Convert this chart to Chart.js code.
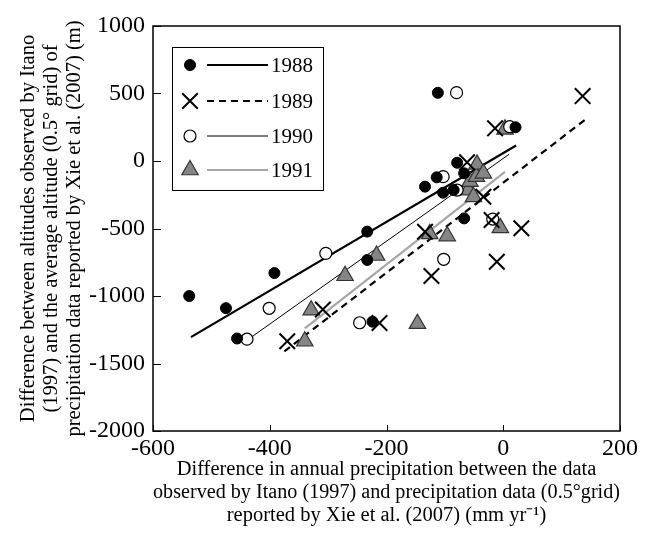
<!DOCTYPE html>
<html>
<head>
<meta charset="utf-8">
<script src="https://cdn.jsdelivr.net/npm/chart.js@4.4.0/dist/chart.umd.min.js"></script>
<style>
  html, body { margin: 0; padding: 0; background: #fff; }
</style>
</head>
<body>
<canvas id="scatterChart" width="646" height="538"></canvas>
<script>
// Values
const years = ['1988', '1989', '1990', '1991'];

const x1988 = [-538, -475, -456, -392, -233, -233, -224, -134, -114, -112, -103, -85, -79, -67, -67, 21];
const y1988 = [-1000, -1090, -1315, -830, -523, -733, -1190, -190, -121, 505, -235, -215, -13, -91, -425, 250];

const x1989 = [-370, -309, -212, -134, -123, -62, -34, -20, -14, -11, 31, 136];
const y1989 = [-1335, -1100, -1200, -524, -852, -10, -265, -437, 242, -746, -498, 481];

const x1990 = [-439, -401, -304, -246, -103, -80, -79, -102, 11, -18];
const y1990 = [-1320, -1091, -684, -1198, -116, 506, -215, -728, 254, -430];

const x1991 = [-340, -329, -271, -217, -147, -126, -96, -60, -51, -57, -46, -45, -34, -5, 3];
const y1991 = [-1335, -1105, -850, -700, -1205, -540, -556, -215, -265, -153, -116, -25, -91, -495, 235];

// regression line end points
const fitX1988 = [-535, 22];
const fitY1988 = [-1305, 115];
const fitX1989 = [-375, 143];
const fitY1989 = [-1410, 315];
const fitX1990 = [-430, 10];
const fitY1990 = [-1300, 50];
const fitX1991 = [-340, 3];
const fitY1991 = [-1240, -80];

const xTicks = [-600, -400, -200, 0, 200];
const yTicks = [-2000, -1500, -1000, -500, 0, 500, 1000];

const toPoints = (xs, ys) => xs.map((x, i) => ({ x: x, y: ys[i] }));

const serif = '"Liberation Serif", "Times New Roman", serif';
Chart.defaults.font.family = serif;
Chart.defaults.font.size = 20;
Chart.defaults.color = '#000';

// Point styles for each year (also used by the boxed legend)
const markers = [
    { pointStyle: 'circle', pointRadius: 5.5, pointBackgroundColor: '#000', pointBorderColor: '#000', pointBorderWidth: 1 },
    { pointStyle: 'crossRot', pointRadius: 11, pointBackgroundColor: '#000', pointBorderColor: '#000', pointBorderWidth: 2 },
    { pointStyle: 'circle', pointRadius: 6, pointBackgroundColor: '#fff', pointBorderColor: '#000', pointBorderWidth: 1.2 },
    { pointStyle: 'triangle', pointRadius: 9.5, pointBackgroundColor: '#858585', pointBorderColor: '#333', pointBorderWidth: 1.2 }
];
const fitLines = [
    { borderColor: '#000', borderWidth: 2.2, borderDash: [] },
    { borderColor: '#000', borderWidth: 2.2, borderDash: [7, 5] },
    { borderColor: '#000', borderWidth: 1, borderDash: [] },
    { borderColor: '#a6a6a6', borderWidth: 2.2, borderDash: [] }
];

const pointSets = [toPoints(x1988, y1988), toPoints(x1989, y1989), toPoints(x1990, y1990), toPoints(x1991, y1991)];
const fitSets = [toPoints(fitX1988, fitY1988), toPoints(fitX1989, fitY1989), toPoints(fitX1990, fitY1990), toPoints(fitX1991, fitY1991)];

const datasets = [];
years.forEach((yr, i) => {
    datasets.push(Object.assign({ label: yr, data: pointSets[i], showLine: false }, markers[i]));
});
years.forEach((yr, i) => {
    datasets.push(Object.assign({ label: yr + ' fit', data: fitSets[i], showLine: true, pointRadius: 0, fill: false }, fitLines[i]));
});

// frame round the plot area with inward tick marks
const frameTicks = {
    id: 'frameTicks',
    beforeDatasetsDraw(chart) {
        const { ctx, chartArea: a, scales } = chart;
        ctx.save();
        ctx.strokeStyle = '#000';
        ctx.lineWidth = 1.5;
        ctx.strokeRect(a.left, a.top, a.right - a.left, a.bottom - a.top);
        ctx.lineWidth = 1;
        ctx.beginPath();
        xTicks.forEach(v => {
            const px = Math.round(scales.x.getPixelForValue(v)) + 0.5;
            ctx.moveTo(px, a.bottom);
            ctx.lineTo(px, a.bottom - 6);
        });
        yTicks.forEach(v => {
            const py = Math.round(scales.y.getPixelForValue(v)) + 0.5;
            ctx.moveTo(a.left, py);
            ctx.lineTo(a.left + 8, py);
        });
        ctx.stroke();
        ctx.restore();
    }
};

// boxed legend: marker, line sample, year
const drawMarker = (ctx, m, x, y) => {
    ctx.fillStyle = m.pointBackgroundColor;
    ctx.strokeStyle = m.pointBorderColor;
    ctx.lineWidth = m.pointBorderWidth;
    ctx.beginPath();
    const r = m.pointRadius;
    if (m.pointStyle === 'circle') {
        ctx.arc(x, y, r, 0, Math.PI * 2);
        ctx.fill();
        ctx.stroke();
    } else if (m.pointStyle === 'crossRot') {
        const d = r * Math.SQRT1_2;
        ctx.moveTo(x - d, y - d); ctx.lineTo(x + d, y + d);
        ctx.moveTo(x + d, y - d); ctx.lineTo(x - d, y + d);
        ctx.stroke();
    } else {
        const s = r * Math.sin(Math.PI / 3);
        ctx.moveTo(x, y - r);
        ctx.lineTo(x + s, y + r / 2);
        ctx.lineTo(x - s, y + r / 2);
        ctx.closePath();
        ctx.fill();
        ctx.stroke();
    }
};

const boxLegend = {
    id: 'boxLegend',
    afterDraw(chart) {
        const ctx = chart.ctx;
        ctx.save();
        ctx.fillStyle = '#fff';
        ctx.fillRect(172, 47, 151, 143);
        ctx.strokeStyle = '#000';
        ctx.lineWidth = 1;
        ctx.strokeRect(172.5, 47.5, 151, 143);
        const rowY = [65, 101, 136, 170];
        years.forEach((yr, i) => {
            const y = rowY[i];
            drawMarker(ctx, markers[i], 190, y);
            ctx.strokeStyle = fitLines[i].borderColor;
            ctx.lineWidth = fitLines[i].borderWidth;
            ctx.setLineDash(fitLines[i].borderDash);
            ctx.beginPath();
            ctx.moveTo(207, y);
            ctx.lineTo(268, y);
            ctx.stroke();
            ctx.setLineDash([]);
            ctx.fillStyle = '#000';
            ctx.font = '21px ' + serif;
            ctx.textBaseline = 'middle';
            ctx.textAlign = 'left';
            ctx.fillText(yr, 271, y + 1);
        });
        ctx.restore();
    }
};

const ctx = document.getElementById('scatterChart').getContext('2d');
const scatterChart = new Chart(ctx, {
    type: 'scatter',
    data: { datasets: datasets },
    options: {
        responsive: false,
        animation: false,
        layout: { padding: { top: 26, right: 26, bottom: 0, left: 0 } },
        plugins: {
            legend: { display: false },
            tooltip: { enabled: false }
        },
        scales: {
            x: {
                type: 'linear',
                min: -600,
                max: 200,
                afterBuildTicks: scale => { scale.ticks = xTicks.map(v => ({ value: v })); },
                afterFit: scale => { scale.height = 107; },
                grid: { display: false, drawTicks: false },
                border: { display: false },
                ticks: { padding: 3, maxRotation: 0, callback: v => String(v), font: { size: 24 } },
                title: {
                    display: true,
                    text: [
                        'Difference in annual precipitation between the data',
                        'observed by Itano (1997) and precipitation data (0.5°grid)',
                        'reported by Xie et al. (2007) (mm yr⁻¹)'
                    ],
                    font: { size: 20.5, lineHeight: 1.12 },
                    padding: { top: 0, bottom: 11 }
                }
            },
            y: {
                type: 'linear',
                min: -2000,
                max: 1000,
                afterBuildTicks: scale => { scale.ticks = yTicks.map(v => ({ value: v })); },
                afterFit: scale => { scale.width = 153; },
                grid: { display: false, drawTicks: false },
                border: { display: false },
                ticks: { padding: 8, callback: v => String(v), font: { size: 24 } },
                title: {
                    display: true,
                    text: [
                        'Difference between altitudes observed by Itano',
                        '(1997) and the average altitude (0.5° grid) of',
                        'precipitation data reported by Xie et al. (2007) (m)'
                    ],
                    font: { size: 20.5, lineHeight: 1.12 },
                    padding: { top: 17, bottom: 0 }
                }
            }
        }
    },
    plugins: [frameTicks, boxLegend]
});
</script>
</body>
</html>
